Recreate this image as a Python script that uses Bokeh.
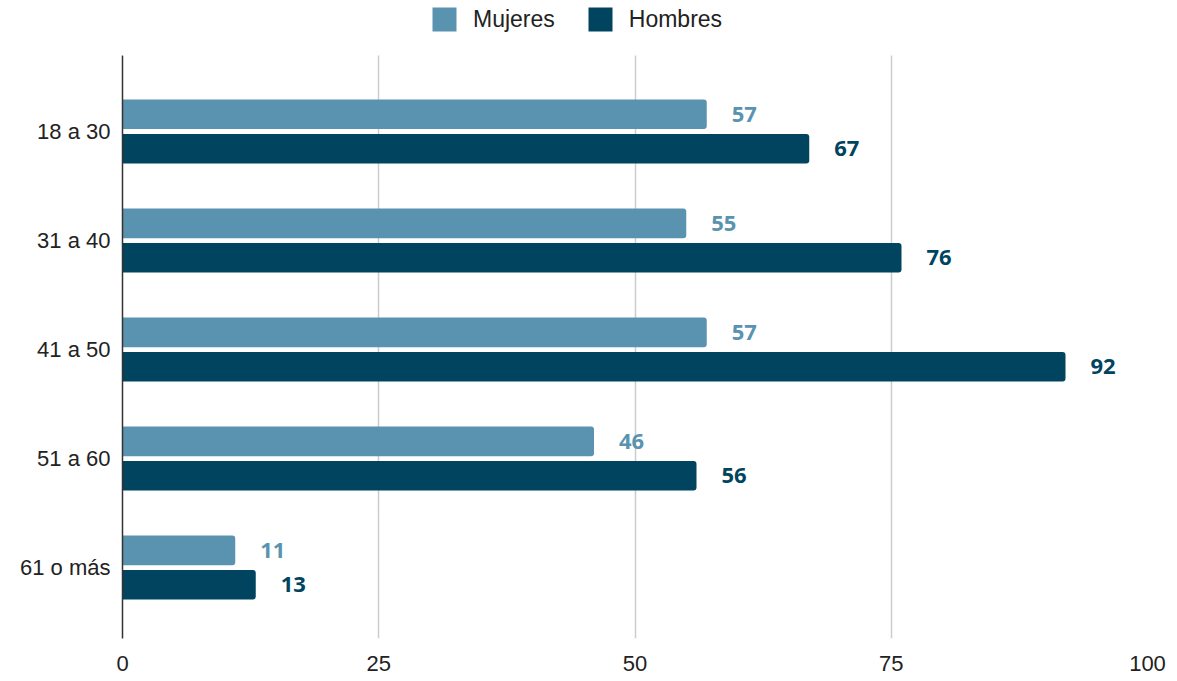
from bokeh.plotting import figure
from bokeh.models import ColumnDataSource, Range1d, FixedTicker, Legend, LegendItem, BoxAnnotation
from bokeh.transform import dodge
from bokeh.core.properties import value
from bokeh.embed import file_html
from bokeh.resources import INLINE

categories = ["18 a 30", "31 a 40", "41 a 50", "51 a 60", "61 o más"]
mujeres = [57, 55, 57, 46, 11]
hombres = [67, 76, 92, 56, 13]
x_ticks = [0, 25, 50, 75, 100]

C_M = "#5a93b0"
C_H = "#00445f"

pos = list(range(len(categories)))
src = ColumnDataSource(dict(
    y=pos, cat=categories, m=mujeres, h=hombres,
    ml=[str(v) for v in mujeres], hl=[str(v) for v in hombres],
))

Y_TOP_PLOT = -0.697
p = figure(width=1177, height=681, output_backend="svg", toolbar_location=None,
           x_range=Range1d(0, 100), y_range=Range1d(4.651, -1.202), title=None,
           min_border_left=122, min_border_right=30, min_border_top=0, min_border_bottom=43)
p.outline_line_color = None
p.background_fill_color = "white"

off = 0.158
bh = 0.272
rm = p.hbar(y=dodge("y", -off, range=p.y_range), left=0, right="m", height=bh, source=src,
            fill_color=C_M, line_color=None, border_radius=(0, 3, 3, 0))
rh = p.hbar(y=dodge("y", off, range=p.y_range), left=0, right="h", height=bh, source=src,
            fill_color=C_H, line_color=None, border_radius=(0, 3, 3, 0))

p.text(x="m", y=dodge("y", -off, range=p.y_range), text="ml", source=src, x_offset=25,
       text_color=C_M, text_font=value("Open Sans"), text_font_style="bold",
       text_font_size="22px", text_baseline="middle", text_align="left")
p.text(x="h", y=dodge("y", off, range=p.y_range), text="hl", source=src, x_offset=25,
       text_color=C_H, text_font=value("Open Sans"), text_font_style="bold",
       text_font_size="22px", text_baseline="middle", text_align="left")

# x axis
p.xaxis.ticker = FixedTicker(ticks=x_ticks)
p.xaxis.axis_line_color = None
p.xaxis.major_tick_line_color = None
p.xaxis.minor_tick_line_color = None
p.xaxis.major_tick_out = 0
p.xaxis.major_label_standoff = 17
p.xaxis.major_label_text_font = "Liberation Sans"
p.xaxis.major_label_text_font_size = "22px"
p.xaxis.major_label_text_color = "#222222"

# y axis
p.yaxis.ticker = FixedTicker(ticks=pos)
p.yaxis.bounds = (Y_TOP_PLOT, 4.651)
p.yaxis.major_label_overrides = {i: c for i, c in zip(pos, categories)}
p.yaxis.axis_line_color = "#333333"
p.yaxis.axis_line_width = 1.5
p.yaxis.major_tick_line_color = None
p.yaxis.minor_tick_line_color = None
p.yaxis.major_tick_out = 0
p.yaxis.major_label_standoff = 12
p.yaxis.major_label_text_font = "Liberation Sans"
p.yaxis.major_label_text_font_size = "22px"
p.yaxis.major_label_text_color = "#222222"

p.xgrid.grid_line_color = "#cccccc"
p.xgrid.grid_line_width = 1.5
p.ygrid.grid_line_color = None

# white band above the plotting area (legend sits here, grid stops below it)
p.add_layout(BoxAnnotation(bottom=Y_TOP_PLOT, top=-1.5, fill_color="white", fill_alpha=1,
                           line_color=None))

legend = Legend(items=[LegendItem(label="Mujeres", renderers=[rm]),
                       LegendItem(label="Hombres", renderers=[rh])],
                orientation="horizontal", location=(307, 604),
                glyph_width=30, glyph_height=30, label_standoff=14, spacing=30,
                padding=0, margin=0, border_line_color=None,
                label_text_font="Liberation Sans", label_text_font_size="23px",
                label_text_color="#222222", background_fill_alpha=0)
p.add_layout(legend, "center")

open("out.html", "w").write(file_html(p, INLINE))
